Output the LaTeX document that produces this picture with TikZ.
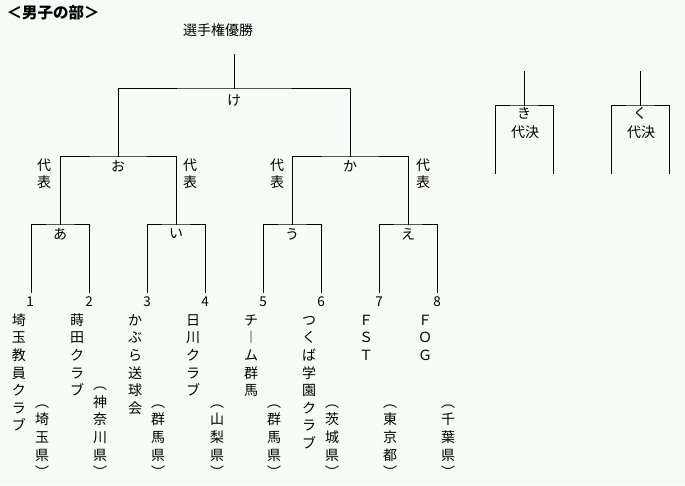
\documentclass[tikz,border=0pt]{standalone}
\usepackage{fontspec}
\setmainfont{Noto Sans CJK JP}
\definecolor{bg}{HTML}{F6FBF8}
\tikzset{
  line/.style={draw=black, line width=1pt, line cap=rect},
  lbl/.style={inner sep=0pt, font=\fontsize{14}{16}\selectfont},
  vch/.style={inner sep=0pt, anchor=base, font=\fontsize{14}{16}\selectfont},
  num/.style={inner sep=0pt, font=\fontsize{13.5}{16}\selectfont},
}
\newcommand\vcol[4]{%
  \foreach \ch [count=\k from 0] in {#4} {\node[vch] (#1-\k) at (#2,{#3+5.3+17.6*\k}) {\ch};}}
\begin{document}
\begin{tikzpicture}[x=1pt,y=-1pt]
\fill[bg] (0,0) rectangle (685,485);
\useasboundingbox (0,0) rectangle (685,485);

\node[lbl, font=\fontsize{15.5}{16}\selectfont\bfseries] (title) at (53,13) {＜男子の部＞};
\node[lbl] (champ) at (218,30) {選手権優勝};

% coordinates
\coordinate (top) at (234,54);
\coordinate (K) at (234,88);
\coordinate (O) at (118,156);
\coordinate (KA) at (350,156);
\coordinate (A) at (60,224);
\coordinate (I) at (176,224);
\coordinate (U) at (292,224);
\coordinate (E) at (408,224);
\coordinate (p1) at (31,292);
\coordinate (p2) at (89,292);
\coordinate (p3) at (147,292);
\coordinate (p4) at (205,292);
\coordinate (p5) at (263,292);
\coordinate (p6) at (321,292);
\coordinate (p7) at (379,292);
\coordinate (p8) at (437,292);

\draw[line] (top) -- (K);
\draw[line] (O) |- (K) -| (KA);
\draw[line] (A) |- (O) -| (I);
\draw[line] (U) |- (KA) -| (E);
\draw[line] (p1) |- (A) -| (p2);
\draw[line] (p3) |- (I) -| (p4);
\draw[line] (p5) |- (U) -| (p6);
\draw[line] (p7) |- (E) -| (p8);

% side brackets
\coordinate (kitop) at (524,71);
\coordinate (ki) at (524,105);
\coordinate (kiL) at (495,173);
\coordinate (kiR) at (553,173);
\coordinate (kutop) at (640,71);
\coordinate (ku) at (640,105);
\coordinate (kuL) at (611,173);
\coordinate (kuR) at (669,173);
\draw[line] (kitop) -- (ki);
\draw[line] (kiL) |- (ki) -| (kiR);
\draw[line] (kutop) -- (ku);
\draw[line] (kuL) |- (ku) -| (kuR);

% labels
\node[lbl] (lke) at (234,100) {け};
\node[lbl] (lo) at (118,166) {お};
\node[lbl] (lka) at (350,166) {か};
\node[lbl] (la) at (60,234) {あ};
\node[lbl] (li) at (176,234) {い};
\node[lbl] (lu) at (292,234) {う};
\node[lbl] (le) at (408,234) {え};
\node[lbl] (lki) at (524,113) {き};
\node[lbl] (lkid) at (525,132) {代決};
\node[lbl] (lku) at (640,113) {く};
\node[lbl] (lkud) at (641,132) {代決};

\vcol{d1}{44}{165}{代,表}
\vcol{d2}{190}{165}{代,表}
\vcol{d3}{277}{165}{代,表}
\vcol{d4}{423}{165}{代,表}

% numbers
\node[num] (n1) at (30,302) {1};
\node[num] (n2) at (89,302) {2};
\node[num] (n3) at (147,302) {3};
\node[num] (n4) at (205,302) {4};
\node[num] (n5) at (263,302) {5};
\node[num] (n6) at (321,302) {6};
\node[num] (n7) at (379,302) {7};
\node[num] (n8) at (437,302) {8};

% teams
\vcol{t1}{19}{320}{埼,玉,教,員,ク,ラ,ブ}
\vcol{t2}{77}{320}{蒔,田,ク,ラ,ブ}
\vcol{t3}{135}{320}{か,ぶ,ら,送,球,会}
\vcol{t4}{193}{320}{日,川,ク,ラ,ブ}
\vcol{t5}{251}{320}{チ,︱,ム,群,馬}
\vcol{t6}{309}{320}{つ,く,ば,学,園,ク,ラ,ブ}
\vcol{t7}{366}{320}{Ｆ,Ｓ,Ｔ}
\vcol{t8}{425}{320}{Ｆ,Ｏ,Ｇ}

% prefectures
\vcol{r1}{42}{402}{︵,埼,玉,県,︶}
\vcol{r2}{100}{384.4}{︵,神,奈,川,県,︶}
\vcol{r3}{158}{402}{︵,群,馬,県,︶}
\vcol{r4}{217}{402}{︵,山,梨,県,︶}
\vcol{r5}{274}{402}{︵,群,馬,県,︶}
\vcol{r6}{332}{402}{︵,茨,城,県,︶}
\vcol{r7}{390}{402}{︵,東,京,都,︶}
\vcol{r8}{448}{402}{︵,千,葉,県,︶}
\end{tikzpicture}
\end{document}
